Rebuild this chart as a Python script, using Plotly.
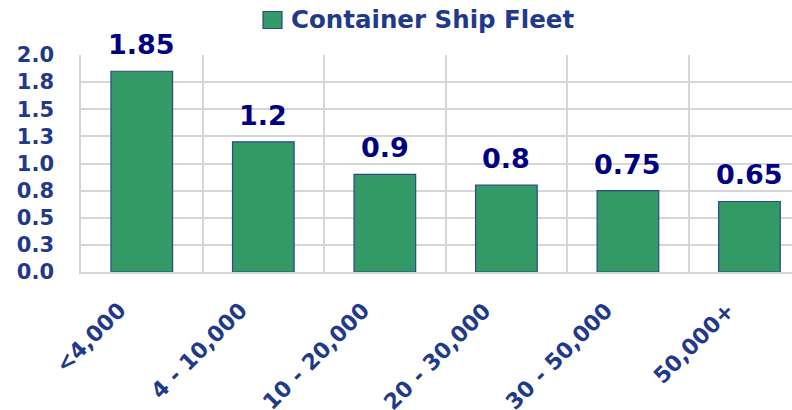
import plotly.graph_objects as go

categories = ["<4,000", "4 - 10,000", "10 - 20,000", "20 - 30,000", "30 - 50,000", "50,000+"]
values = [1.85, 1.2, 0.9, 0.8, 0.75, 0.65]
value_labels = ["1.85", "1.2", "0.9", "0.8", "0.75", "0.65"]
series_name = "Container Ship Fleet"
y_tickvals = [0, 0.25, 0.5, 0.75, 1.0, 1.25, 1.5, 1.75, 2.0]
y_ticktext = ["0.0", "0.3", "0.5", "0.8", "1.0", "1.3", "1.5", "1.8", "2.0"]

FONT = "DejaVu Sans"
AXIS_BLUE = "#1F3A8A"
LABEL_NAVY = "#000080"
GREEN = "#339966"
EDGE = "#2A4A85"
GRID = "#D6D6D6"

W, H = 792, 410
L, R, T, B = 81, 0, 55, 138

fig = go.Figure()
fig.add_trace(go.Bar(
    x=categories, y=values, name=series_name, width=0.507,
    marker=dict(color=GREEN, line=dict(color=EDGE, width=1.2)),
    showlegend=False,
))

annotations = []
for c, v, t in zip(categories, values, value_labels):
    annotations.append(dict(
        x=c, y=v, xref="x", yref="y", text=t, showarrow=False,
        xanchor="center", yanchor="bottom", yshift=9,
        font=dict(family=FONT, size=27, color=LABEL_NAVY, weight="bold"),
    ))
for c in categories:
    annotations.append(dict(
        x=c, y=0, xref="x", yref="paper", text=c, showarrow=False,
        textangle=-45, xanchor="right", yanchor="top", xshift=-8, yshift=-23,
        font=dict(family=FONT, size=22, color=AXIS_BLUE, weight="bold"),
    ))

pw = W - L - R
ph = H - T - B
# legend (manual, pixel-positioned)
def px_x(x):
    return (x - L) / pw
def px_y(y):
    return (H - B - y) / ph

annotations.append(dict(
    x=px_x(289), y=px_y(20), xref="paper", yref="paper", text=series_name,
    showarrow=False, xanchor="left", yanchor="middle",
    font=dict(family=FONT, size=24.5, color=AXIS_BLUE, weight="bold"),
))
shapes = [dict(
    type="rect", xref="paper", yref="paper",
    x0=px_x(263), x1=px_x(282), y0=px_y(28.5), y1=px_y(11.5),
    fillcolor=GREEN, line=dict(color=EDGE, width=1.2),
)]

fig.update_layout(
    width=W, height=H,
    margin=dict(l=L, r=R, t=T, b=B, pad=0),
    paper_bgcolor="white", plot_bgcolor="white",
    annotations=annotations, shapes=shapes,
    bargap=0.49,
    xaxis=dict(
        type="category", categoryorder="array", categoryarray=categories,
        range=[-0.5, 5.35], tickson="boundaries", showgrid=True,
        gridcolor=GRID, gridwidth=1.5, showticklabels=False, ticks="",
        showline=True, linecolor=GRID, linewidth=1.5, zeroline=False,
    ),
    yaxis=dict(
        range=[0, 2.0], tickvals=y_tickvals, ticktext=y_ticktext,
        showgrid=True, gridcolor=GRID, gridwidth=1.5, zeroline=False,
        showline=True, linecolor=GRID, linewidth=1.5,
        ticks="", ticklabelstandoff=21,
        tickfont=dict(family=FONT, size=21, color=AXIS_BLUE, weight="bold"),
    ),
)

fig.write_html(
    "out.html",
    config={"displayModeBar": False},
    post_script="document.body.style.margin='0';document.body.style.padding='0';",
)
